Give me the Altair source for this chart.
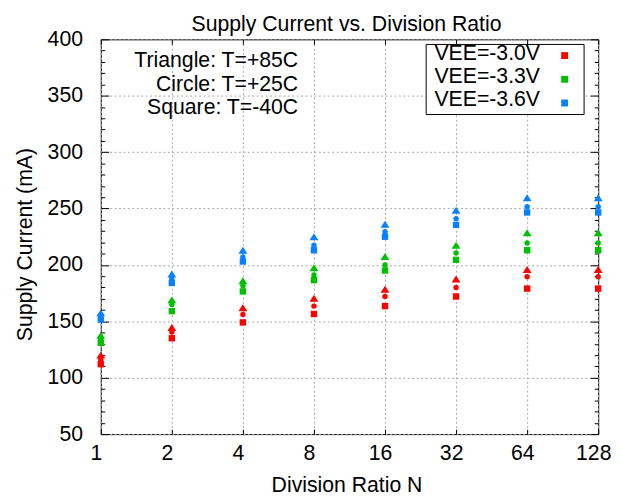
import altair as alt
import pandas as pd

# ---- data ----
N_VALUES = [1, 2, 4, 8, 16, 32, 64, 128]
VEE_LABELS = ["VEE=-3.0V", "VEE=-3.3V", "VEE=-3.6V"]
VEE_COLORS = ["#ff0000", "#00c000", "#0a80ff"]
TEMP_LABELS = ["+85C", "+25C", "-40C"]   # triangle, circle, square

vee30_t85 = [120, 144.5, 162, 170.5, 178.5, 187.5, 196, 196]
vee30_t25 = [116, 140.5, 156, 163.5, 172, 180, 189.5, 189.5]
vee30_m40 = [112, 135, 149, 156.5, 163.5, 172, 179, 179]

vee33_t85 = [137.5, 169, 186, 197.5, 207.5, 217.5, 228.5, 228.5]
vee33_t25 = [134.5, 165, 181.5, 191, 200, 210.5, 219.5, 219.5]
vee33_m40 = [131, 159, 176.5, 186.5, 195, 204.5, 213, 213]

vee36_t85 = [157.5, 192, 213, 225, 236, 248.5, 259.5, 259.5]
vee36_t25 = [154.5, 187.5, 207, 217.5, 229.5, 241, 251.5, 251.5]
vee36_m40 = [151.5, 184, 203, 213, 225, 235.5, 246.5, 246.5]

Y_TICKS = list(range(50, 401, 10))
ANNOTATION_LINES = ["Triangle: T=+85C", "Circle: T=+25C", "Square: T=-40C"]

series = {
    ("VEE=-3.0V", "+85C"): vee30_t85, ("VEE=-3.0V", "+25C"): vee30_t25, ("VEE=-3.0V", "-40C"): vee30_m40,
    ("VEE=-3.3V", "+85C"): vee33_t85, ("VEE=-3.3V", "+25C"): vee33_t25, ("VEE=-3.3V", "-40C"): vee33_m40,
    ("VEE=-3.6V", "+85C"): vee36_t85, ("VEE=-3.6V", "+25C"): vee36_t25, ("VEE=-3.6V", "-40C"): vee36_m40,
}
rows = []
for (vee, temp), vals in series.items():
    for n, v in zip(N_VALUES, vals):
        rows.append({"N": n, "VEE": vee, "T": temp, "I": v})
df = pd.DataFrame(rows)
legend_df = pd.DataFrame({"VEE": VEE_LABELS})

FONT = "Liberation Sans"
FS = 21.5
TRI = "M0,-0.78L1,0.78L-1,0.78Z"
GRID = "#a8a8a8"

xscale = alt.Scale(type="log", base=2, domain=[1, 128], nice=False)
yscale = alt.Scale(domain=[50, 400], nice=False, zero=False)
cscale = alt.Scale(domain=VEE_LABELS, range=VEE_COLORS)
ytick_expr = {"expr": "datum.value % 50 === 0 ? -8 : -4"}

x_main = alt.X("N:Q", scale=xscale, title="Division Ratio N",
               axis=alt.Axis(orient="bottom", values=N_VALUES, format="d", domain=False,
                             tickSize={"expr": "-5"}, tickColor="black", labelPadding=13.5,
                             labelOffset=-5, labelFlush=False, labelOverlap=False,
                             grid=True, gridColor=GRID, gridDash=[2, 2.5],
                             titleY=58.5, titleX=249, titleBaseline="alphabetic"))
y_main = alt.Y("I:Q", scale=yscale, title="Supply Current (mA)",
               axis=alt.Axis(orient="left", values=Y_TICKS, domain=False,
                             tickSize=ytick_expr, tickColor="black", labelPadding=26.5,
                             labelExpr="datum.value % 50 === 0 ? datum.label : ''",
                             labelOverlap=False, labelFlush=False,
                             grid=True, gridColor=GRID, gridDash=[2, 2.5],
                             gridOpacity={"condition": {"test": "datum.value % 50 !== 0", "value": 0}, "value": 1},
                             titleX=-70.3, titleY=207.5, titleBaseline="alphabetic", titleAngle=-90))
x_plain = alt.X("N:Q", scale=xscale, axis=None)
y_plain = alt.Y("I:Q", scale=yscale, axis=None)

shapes = {"+85C": (TRI, 81), "+25C": ("circle", 30), "-40C": ("square", 42)}
layers = []
for i, t in enumerate(TEMP_LABELS):
    shp, sz = shapes[t]
    layers.append(
        alt.Chart(df).transform_filter(alt.datum.T == t)
        .mark_point(filled=True, opacity=1, strokeWidth=0, shape=shp, size=sz)
        .encode(x=x_main if i == 0 else x_plain,
                y=y_main if i == 0 else y_plain,
                color=alt.Color("VEE:N", scale=cscale, legend=None))
    )

# mirrored inward ticks on top and right
layers.append(alt.Chart(df).mark_point(opacity=0).encode(
    x=alt.X("N:Q", scale=xscale, title=None,
            axis=alt.Axis(orient="top", values=N_VALUES, domain=False, labels=False, grid=False,
                          tickSize={"expr": "-5"}, tickColor="black")),
    y=alt.Y("I:Q", scale=yscale, title=None,
            axis=alt.Axis(orient="right", values=Y_TICKS, domain=False, labels=False, grid=False,
                          tickSize=ytick_expr, tickColor="black")),
))

# annotation text
layers.append(alt.Chart(alt.Data(values=[{"k": 0}])).mark_text(
    text=ANNOTATION_LINES, align="right", baseline="top", lineHeight=23.5,
    font=FONT, fontSize=FS, color="black"
).encode(x=alt.value(200), y=alt.value(11.5)))

# legend box, labels and swatches
layers.append(alt.Chart(alt.Data(values=[{"k": 0}])).mark_rect(
    fill="white", stroke="black", strokeWidth=1
).encode(x=alt.value(329.7), x2=alt.value(489.7), y=alt.value(5.2), y2=alt.value(76.2)))

for i, lab in enumerate(VEE_LABELS):
    base = alt.Chart(legend_df).transform_filter(alt.datum.VEE == lab)
    layers.append(base.mark_text(
        align="right", baseline="middle", font=FONT, fontSize=FS, color="black"
    ).encode(x=alt.value(445), y=alt.value(15 + 23.3 * i), text="VEE:N"))
    layers.append(base.mark_point(
        shape="square", filled=True, size=49, opacity=1, strokeWidth=0
    ).encode(x=alt.value(470), y=alt.value(16.5 + 24 * i),
             color=alt.Color("VEE:N", scale=cscale, legend=None)))

chart = alt.layer(*layers).resolve_axis(
    x="independent", y="independent"
).properties(
    width=504, height=400,
    title=alt.TitleParams("Supply Current vs. Division Ratio", frame="group", anchor="middle",
                          offset=0, dy=24.5, baseline="alphabetic", dx=-3,
                          font=FONT, fontSize=FS, fontWeight="normal", color="black"),
    autosize=alt.AutoSizeParams(type="none"),
    padding={"left": 94, "top": 28.5, "right": 15, "bottom": 61},
).configure_view(
    stroke="black", strokeWidth=1
).configure_axis(
    labelFont=FONT, labelFontSize=FS, labelColor="black",
    titleFont=FONT, titleFontSize=FS, titleColor="black", titleFontWeight="normal",
    tickWidth=1
)

chart.save("out.html", embed_options={"renderer": "svg", "actions": False})
